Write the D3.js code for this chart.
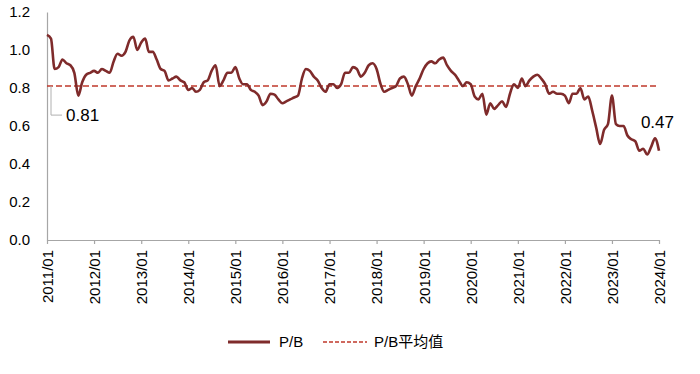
<!DOCTYPE html>
<html>
<head>
<meta charset="utf-8">
<script src="https://cdn.jsdelivr.net/npm/d3@7/dist/d3.min.js"></script>
<style>
  body { margin: 0; background: #fff; }
  text { font-family: Arial, "Liberation Sans", "Noto Sans CJK SC", sans-serif; fill: #000; }
</style>
</head>
<body>
<div id="chart"></div>
<script>
// monthly P/B, 2011/01 .. 2024/01
var startDate = "2011-01"
var pbValues = [
  1.08, 1.06, 0.90, 0.91, 0.95, 0.93, 0.92, 0.88, 0.76, 0.83, 0.87, 0.88,
  0.89, 0.88, 0.90, 0.89, 0.88, 0.94, 0.98, 0.97, 0.99, 1.05, 1.07, 1.00,
  1.04, 1.06, 0.99, 0.99, 0.95, 0.90, 0.89, 0.84, 0.85, 0.86, 0.84, 0.83,
  0.79, 0.80, 0.78, 0.79, 0.83, 0.84, 0.89, 0.92, 0.81, 0.84, 0.88, 0.88,
  0.91, 0.85, 0.82, 0.82, 0.79, 0.78, 0.76, 0.71, 0.73, 0.77, 0.765, 0.74,
  0.72, 0.73, 0.74, 0.75, 0.76, 0.85, 0.90, 0.89, 0.86, 0.84, 0.80, 0.78,
  0.82, 0.82, 0.80, 0.82, 0.88, 0.88, 0.91, 0.90, 0.86, 0.88, 0.92, 0.93,
  0.90, 0.82, 0.78, 0.79, 0.80, 0.81, 0.85, 0.86, 0.82, 0.76, 0.81, 0.85,
  0.90, 0.93, 0.94, 0.93, 0.95, 0.96, 0.92, 0.89, 0.87, 0.84, 0.81, 0.83,
  0.82, 0.755, 0.74, 0.77, 0.66, 0.72, 0.69, 0.71, 0.73, 0.70, 0.77, 0.82,
  0.80, 0.85, 0.81, 0.84, 0.86, 0.87, 0.85, 0.82, 0.77, 0.78, 0.77, 0.77,
  0.76, 0.72, 0.77, 0.77, 0.80, 0.74, 0.755, 0.68, 0.59, 0.505, 0.58, 0.61,
  0.76, 0.61, 0.60, 0.60, 0.55, 0.53, 0.52, 0.47, 0.48, 0.45, 0.49, 0.535,
  0.47
]
var meanPB = 0.81
var yTicks = [0, 0.2, 0.4, 0.6, 0.8, 1.0, 1.2]
var yearTicks = ["2011", "2012", "2013", "2014", "2015", "2016", "2017",
                 "2018", "2019", "2020", "2021", "2022", "2023", "2024"]
var seriesNames = ["P/B", "P/B平均值"]

var W = 700, H = 374
var lineColor = "#7f2b2b", meanColor = "#c0392b", axisColor = "#a6a6a6"

var parse = d3.timeParse("%Y-%m")
var t0 = parse(startDate)
var data = pbValues.map(function(v, i){ return {date: d3.timeMonth.offset(t0, i), value: v} })

var svg = d3.select("#chart").append("svg")
  .attr("width", W).attr("height", H)

var x = d3.scaleTime()
  .domain([t0, d3.timeMonth.offset(t0, pbValues.length - 1)])
  .range([47, 659])
var y = d3.scaleLinear().domain([0, 1.2]).range([240, 12])

// y axis: line + labels only
var yAxis = svg.append("g").attr("transform", "translate(47,0)")
  .call(d3.axisLeft(y).tickValues(yTicks).tickSize(0).tickPadding(17)
    .tickFormat(d3.format(".1f")))
yAxis.select(".domain").attr("stroke", axisColor).attr("stroke-width", 1.2)
yAxis.selectAll("text").style("font-size", "15px").attr("fill", "#000")
  .style("font-family", "Arial, 'Liberation Sans', sans-serif")

// x axis with rotated year labels
var xTickDates = yearTicks.map(function(yr){ return parse(yr + "-01") })
var xAxis = svg.append("g").attr("transform", "translate(0,240)")
  .call(d3.axisBottom(x).tickValues(xTickDates).tickSize(4).tickSizeOuter(0)
    .tickFormat(d3.timeFormat("%Y/%m")))
xAxis.select(".domain").attr("stroke", axisColor).attr("stroke-width", 1.2)
xAxis.selectAll("line").attr("stroke", axisColor).attr("stroke-width", 1.2)
xAxis.selectAll("text")
  .style("font-size", "15px").attr("fill", "#000")
  .style("font-family", "Arial, 'Liberation Sans', sans-serif")
  .attr("text-anchor", "end")
  .attr("transform", "rotate(-90)")
  .attr("x", -10).attr("y", 0).attr("dy", "0.36em")

// mean line
svg.append("line")
  .attr("x1", x.range()[0]).attr("x2", x.range()[1])
  .attr("y1", y(meanPB)).attr("y2", y(meanPB))
  .attr("stroke", meanColor).attr("stroke-width", 1.5)
  .attr("stroke-dasharray", "6,3")

// P/B line
var line = d3.line()
  .x(function(d){ return x(d.date) })
  .y(function(d){ return y(d.value) })
  .curve(d3.curveMonotoneX)
svg.append("path").datum(data)
  .attr("fill", "none").attr("stroke", lineColor)
  .attr("stroke-width", 2.6).attr("stroke-linejoin", "round")
  .attr("d", line)

// mean label with leader
var lx = x.range()[0] + 4, ly = y(meanPB)
svg.append("path")
  .attr("d", "M" + lx + "," + ly + "V" + (ly + 29) + "H" + (lx + 11))
  .attr("fill", "none").attr("stroke", "#b0b0b0").attr("stroke-width", 1)
svg.append("text").attr("x", lx + 15).attr("y", ly + 29).attr("dy", "0.36em")
  .style("font-size", "17px").text(d3.format(".2f")(meanPB))

// last value label
var last = data[data.length - 1]
svg.append("text").attr("x", x(last.date) + 15).attr("y", y(last.value) - 23)
  .attr("text-anchor", "end")
  .style("font-size", "17px").text(d3.format(".2f")(last.value))

// legend
var leg = svg.append("g").attr("transform", "translate(0,342)")
leg.append("line").attr("x1", 228).attr("x2", 270).attr("y1", 0).attr("y2", 0)
  .attr("stroke", lineColor).attr("stroke-width", 3)
leg.append("text").attr("x", 279).attr("y", 0).attr("dy", "0.36em")
  .style("font-size", "15px").text(seriesNames[0])
leg.append("line").attr("x1", 323).attr("x2", 367).attr("y1", 0).attr("y2", 0)
  .attr("stroke", meanColor).attr("stroke-width", 1.5).attr("stroke-dasharray", "4,2")
leg.append("text").attr("x", 374).attr("y", 0).attr("dy", "0.36em")
  .style("font-size", "15px").text(seriesNames[1])
</script>
</body>
</html>
